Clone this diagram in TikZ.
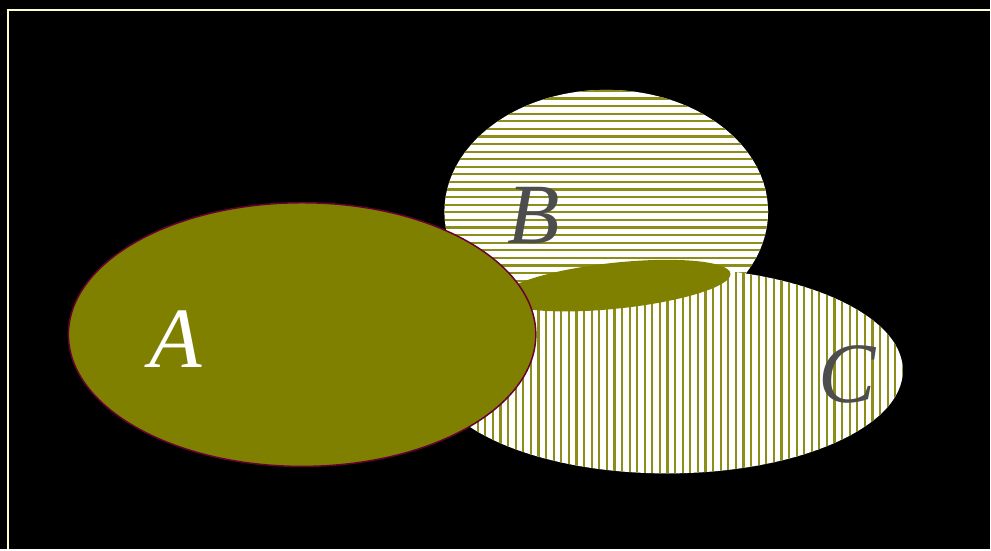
\documentclass[tikz,border=0pt]{standalone}
\usepackage{fontspec}
\setmainfont{Liberation Serif}
\definecolor{setfill}{HTML}{808000}
\definecolor{setedge}{HTML}{660033}
\definecolor{frameline}{HTML}{FFFFCC}
\definecolor{letter}{HTML}{4D4D4D}
\tikzset{
  hatch/.style={setfill!90!white,line width=2.2pt},
  setname/.style={font=\fontsize{86}{86}\selectfont\itshape}
}
\begin{document}
\begin{tikzpicture}[x=1pt,y=1pt]
  % background and frame
  \fill[black] (0,0) rectangle (991,550);
  \draw[frameline,line width=2.5pt] (8,0) -- (8,540) -- (991,540);
  % set B, horizontal hatching
  \begin{scope}
    \clip (607,338) ellipse[x radius=162,y radius=122];
    \fill[white] (440,210) rectangle (775,465);
    \foreach \y in {459,451.4,...,212} \draw[hatch] (440,\y) -- (775,\y);
  \end{scope}
  % set C, vertical hatching
  \begin{scope}
    \clip (668,179) ellipse[x radius=236,y radius=103];
    \fill[white] (430,70) rectangle (910,290);
    \foreach \x in {432.8,440.4,...,908} \draw[hatch] (\x,70) -- (\x,290);
  \end{scope}
  % overlap of B and C
  \fill[setfill] (617,264) ellipse[x radius=115,y radius=23,rotate=6];
  % set A
  \filldraw[fill=setfill,draw=setedge,line width=1.5pt] (302.5,215) ellipse[x radius=234,y radius=132];
  \node[setname,white] (nameA) at (176,210) {A};
  \node[setname,letter] (nameB) at (534,334) {B};
  \node[setname,letter] (nameC) at (848,175) {C};
\end{tikzpicture}
\end{document}
